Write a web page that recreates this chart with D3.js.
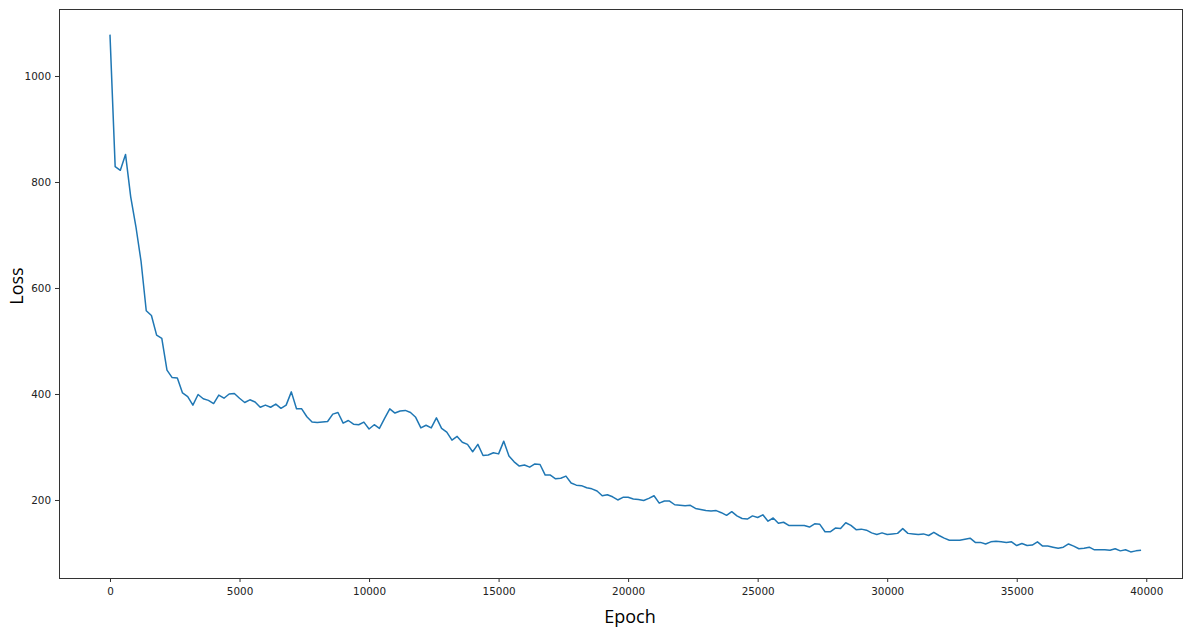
<!DOCTYPE html>
<html>
<head>
    <script src="https://d3js.org/d3.v7.min.js"></script>
    <style>
        body { margin: 0; background: #fff; }
        svg { display: block; }
        .tick text { font-family: 'DejaVu Sans', sans-serif; font-size: 10.4px; fill: #222; }
        .axis-label { font-family: 'Open Sans', sans-serif; font-size: 18px; fill: #000; }
    </style>
</head>
<body>
<div id="chart"></div>
<script>
    const EPOCH_STEP = 200;
    const loss = [
        1078, 829, 822, 852, 772, 716, 650, 557, 548, 511,
        505, 445, 431, 430, 402, 395, 379, 399, 391, 388,
        382, 398, 392, 400, 401, 392, 384, 389, 385, 375,
        379, 375, 381, 373, 379, 404, 372, 372, 357, 347,
        346, 347, 348, 362, 365, 345, 350, 343, 342, 347,
        334, 342, 335, 354, 372, 364, 368, 369, 365, 356,
        336, 341, 336, 355, 335, 328, 313, 320, 309, 305,
        291, 305, 284, 285, 289, 287, 311, 283, 272, 264,
        266, 262, 268, 267, 247, 247, 240, 241, 245, 232,
        228, 227, 223, 221, 217, 208, 210, 206, 200, 205,
        205, 202, 201, 199, 203, 208, 194, 198, 198, 191,
        190, 189, 190, 184, 182, 180, 179, 180, 176, 171,
        178, 170, 165, 164, 170, 167, 172, 160, 166, 156,
        158, 152, 152, 152, 152, 149, 155, 154, 140, 140,
        147, 146, 157, 152, 144, 145, 143, 138, 135, 138,
        135, 136, 137, 146, 137, 136, 135, 136, 133, 139,
        133, 128, 124, 124, 124, 126, 128, 120, 120, 117,
        121, 122, 121, 120, 121, 114, 118, 114, 115, 121,
        113, 113, 111, 109, 111, 117, 113, 108, 109, 111,
        106, 106, 106, 105, 108, 104, 106, 102, 104, 105
    ];
    const xTicks = [0, 5000, 10000, 15000, 20000, 25000, 30000, 35000, 40000];
    const yTicks = [200, 400, 600, 800, 1000];

    const data = loss.map(function (v, i) { return {epoch: i * EPOCH_STEP, loss: v}; });

    var margin = {top: 9, right: 1, bottom: 49, left: 59},
        width = 1184 - margin.left - margin.right,
        height = 627 - margin.top - margin.bottom;

    var svg = d3.select("#chart")
        .append("svg")
        .attr("width", 1184)
        .attr("height", 627);

    var g = svg.append("g")
        .attr("transform", "translate(" + margin.left + "," + margin.top + ")");

    var x = d3.scaleLinear().domain([-1968, 41418]).range([0, width]);
    var y = d3.scaleLinear().domain([52.8, 1126.4]).range([height, 0]);

    var xaxis = d3.axisBottom(x).tickValues(xTicks).tickFormat(d3.format("d")).tickSize(4).tickPadding(4);
    var yaxis = d3.axisLeft(y).tickValues(yTicks).tickFormat(d3.format("d")).tickSize(4).tickPadding(4);

    g.append("g")
        .attr("transform", "translate(0," + height + ")")
        .call(xaxis)
        .call(function (s) { s.select(".domain").remove(); })
        .call(function (s) { s.selectAll(".tick line").attr("stroke", "#333"); })
        .call(function (s) { s.selectAll(".tick text").attr("dy", "0.9em"); });

    g.append("g")
        .call(yaxis)
        .call(function (s) { s.select(".domain").remove(); })
        .call(function (s) { s.selectAll(".tick line").attr("stroke", "#333"); });

    // frame
    g.append("rect")
        .attr("x", 0.5).attr("y", 0.5)
        .attr("width", width - 1).attr("height", height)
        .attr("fill", "none")
        .attr("stroke", "#333")
        .attr("stroke-width", 1);

    var line = d3.line()
        .x(function (d) { return x(d.epoch); })
        .y(function (d) { return y(d.loss); });

    g.append("path")
        .datum(data)
        .attr("fill", "none")
        .attr("stroke", "#1f77b4")
        .attr("stroke-width", 1.5)
        .attr("stroke-linejoin", "round")
        .attr("d", line);

    svg.append("text")
        .attr("class", "axis-label")
        .attr("x", 630)
        .attr("y", 623)
        .attr("text-anchor", "middle")
        .text("Epoch");

    svg.append("text")
        .attr("class", "axis-label")
        .attr("transform", "translate(23,286) rotate(-90)")
        .attr("text-anchor", "middle")
        .text("Loss");
</script>
</body>
</html>
